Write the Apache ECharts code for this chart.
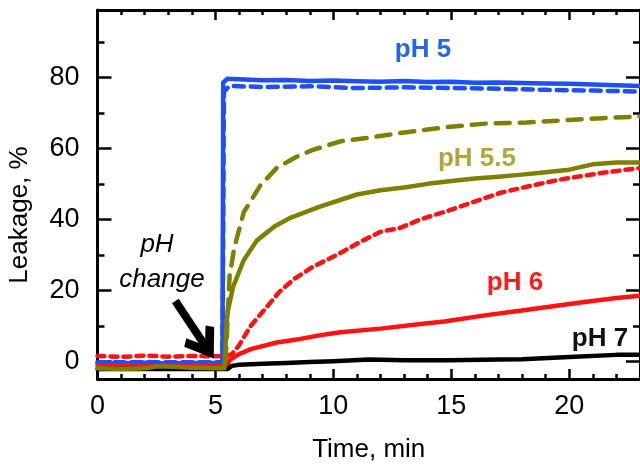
<!DOCTYPE html>
<html>
<head>
<meta charset="utf-8">
<script src="https://cdn.jsdelivr.net/npm/echarts@6/dist/echarts.min.js"></script>
<style>html,body{margin:0;padding:0;background:#fff;}#c{width:640px;height:468px;}</style>
</head>
<body>
<div id="c"></div>
<script>
const xMajor = [0, 5, 10, 15, 20];
const xMinor = [1, 2, 3, 4, 6, 7, 8, 9, 11, 12, 13, 14, 16, 17, 18, 19, 21, 22];
const yMajor = [0, 20, 40, 60, 80];
const yMinor = [10, 30, 50, 70, 90];

const ph5Solid = [[0,-0.5],[1,-0.6],[2,-0.4],[3,-0.6],[4,-0.5],[5,-0.5],[5.3,-0.5],[5.33,78.5],[5.5,79.6],[6,79.5],[7,79.2],[8,79.3],[9,79],[10,79.1],[11,78.9],[12,78.8],[13,79],[14,78.7],[15,78.8],[16,78.5],[17,78.6],[18,78.4],[19,78.3],[20,78.2],[21,78],[22,77.8],[23,77.6]];
const ph5Dash = [[0,-0.3],[1,-0.3],[2,-0.2],[3,-0.3],[4,-0.3],[5,-0.3],[5.3,-0.3],[5.36,76],[5.6,77.6],[7,77.3],[9,77.5],[11,77],[13,77.2],[15,77],[17,76.8],[19,76.5],[21,76.3],[23,76]];
const ph55Solid = [[0,-2],[1,-2.2],[2,-2],[2.5,-1.5],[3,-1.5],[4,-1.8],[5,-2],[5.38,-2],[5.42,3],[5.46,9],[5.52,14],[5.75,21],[6.2,28.5],[6.75,34],[7.5,38],[8.2,40.5],[9.4,43.5],[11,47],[12,48.2],[13,49],[14,50],[15,50.8],[16,51.5],[17,52],[18,52.6],[19,53.3],[20,54],[21,55.5],[22,56],[23,56]];
const ph55Dash = [[5.42,0],[5.48,6],[5.52,13],[5.6,24],[5.8,32],[6.2,42],[6.9,49.5],[7.6,54.5],[8.4,57.5],[9.1,59.5],[10.3,62],[11.5,63],[12.8,64.3],[14,65.3],[14.8,66],[16.5,67],[18.2,67.3],[20,68],[21.4,68.5],[23,69]];
const ph6Solid = [[0,-1.2],[2,-1.2],[4,-1.2],[5.5,-1.2],[5.6,0.3],[6,2],[6.5,3.4],[7.6,5.3],[8.6,6.3],[9.4,7.3],[10.3,8.2],[12,9.2],[13.7,10.5],[14.7,11.2],[16.5,13],[18,14.3],[19,15.2],[20.4,16.5],[22,17.8],[23,18.5]];
const ph6Dash = [[0,1.5],[1,1.2],[2,1.6],[3,1.3],[4,1.5],[5,1.4],[5.5,1.5],[5.7,2],[6,4.5],[6.5,10],[7.2,15.5],[7.7,19.5],[8.3,23],[9.1,26.5],[10.3,30.5],[11.1,33.5],[12,36.5],[12.8,37.5],[13.7,40],[14.9,42.5],[16.2,45.5],[17.1,47.5],[18.2,49.2],[19.6,51.2],[21.3,53],[23,54.5]];
const ph7Solid = [[0,-2.2],[2,-2.2],[4,-2.2],[5.5,-2.2],[5.7,-1.3],[6,-1],[7,-0.7],[8,-0.5],[9,-0.2],[10,0],[11.5,0.5],[13,0.3],[15,0.3],[17,0.5],[18,0.6],[20,1.2],[22,1.8],[23,1.8]];

const FONT = 'Liberation Sans';
const BLUE = '#1e50f5', OLIVE = '#808000', RED = '#ff1212', BLACK = '#000';

function line(name, data, color, dash, z) {
  return {
    name, type: 'line', data, xAxisIndex: 0, yAxisIndex: 0,
    showSymbol: false, symbol: 'none', z,
    lineStyle: { color, width: 4.5, type: dash || 'solid', cap: 'round', join: 'round' }
  };
}

const common = { type: 'value', min: 0, max: 23, splitLine: { show: false } };
const ycommon = { type: 'value', min: -5, max: 99, splitLine: { show: false } };
const axLine = { show: true, onZero: false, lineStyle: { color: '#000', width: 3 } };
const noLine = { show: false, onZero: false };

const chart = echarts.init(document.getElementById('c'), null, { renderer: 'canvas' });
const blackSeries = line('pH 7', ph7Solid, BLACK, null, 5);
blackSeries.markLine = {
  silent: true, animation: false,
  symbol: ['none', 'path://M50,0 L100,80 L82,98 L50,48 L18,98 L0,80 Z'],
  symbolSize: [36, 32],
  lineStyle: { color: '#000', width: 8, type: 'solid' },
  label: { show: false },
  data: [[{ coord: [3.3, 17] }, { coord: [4.55, 4.5] }]]
};

chart.setOption({
  animation: false,
  grid: { left: 97.5, right: 0, top: 10, bottom: 88, containLabel: false },
  xAxis: [
    Object.assign({}, common, { position: 'bottom', axisLine: axLine,
      axisTick: { inside: true, length: 10, customValues: xMajor, lineStyle: { color: '#000', width: 2.5 } },
      axisLabel: { customValues: xMajor, fontSize: 27, fontFamily: FONT, color: '#000', margin: 14 },
      name: 'Time, min', nameLocation: 'middle', nameGap: 58,
      nameTextStyle: { fontSize: 26, fontFamily: FONT, color: '#000' } }),
    Object.assign({}, common, { position: 'bottom', axisLine: noLine,
      axisTick: { inside: true, length: 5, customValues: xMinor, lineStyle: { color: '#000', width: 2.5 } },
      axisLabel: { show: false } }),
    Object.assign({}, common, { position: 'top', axisLine: axLine,
      axisTick: { inside: true, length: 10, customValues: xMajor, lineStyle: { color: '#000', width: 2.5 } },
      axisLabel: { show: false } }),
    Object.assign({}, common, { position: 'top', axisLine: noLine,
      axisTick: { inside: true, length: 5, customValues: xMinor, lineStyle: { color: '#000', width: 2.5 } },
      axisLabel: { show: false } })
  ],
  yAxis: [
    Object.assign({}, ycommon, { position: 'left', axisLine: axLine,
      axisTick: { inside: true, length: 14, customValues: yMajor, lineStyle: { color: '#000', width: 2.5 } },
      axisLabel: { customValues: yMajor, fontSize: 27, fontFamily: FONT, color: '#000', margin: 18 } }),
    Object.assign({}, ycommon, { position: 'left', axisLine: noLine,
      axisTick: { inside: true, length: 7, customValues: yMinor, lineStyle: { color: '#000', width: 2.5 } },
      axisLabel: { show: false } }),
    Object.assign({}, ycommon, { position: 'right', axisLine: axLine,
      axisTick: { inside: true, length: 14, customValues: yMajor, lineStyle: { color: '#000', width: 2.5 } },
      axisLabel: { show: false } }),
    Object.assign({}, ycommon, { position: 'right', axisLine: noLine,
      axisTick: { inside: true, length: 7, customValues: yMinor, lineStyle: { color: '#000', width: 2.5 } },
      axisLabel: { show: false } })
  ],
  series: [
    line('pH 5 dashed', ph5Dash, BLUE, [10, 7], 2),
    line('pH 5', ph5Solid, BLUE, null, 3),
    line('pH 6 dashed', ph6Dash, RED, [7, 6], 1),
    line('pH 6', ph6Solid, RED, null, 4),
    blackSeries,
    line('pH 5.5 dashed', ph55Dash, OLIVE, [14, 10], 6),
    line('pH 5.5', ph55Solid, OLIVE, null, 7)
  ],
  graphic: [
    { type: 'text', x: 20, y: 215, rotation: Math.PI / 2, z: 100,
      style: { text: 'Leakage, %', font: '26px "Liberation Sans"', fill: '#000', textAlign: 'center', textVerticalAlign: 'middle' } },
    { type: 'text', x: 423, y: 50, z: 100, style: { text: 'pH 5', font: 'bold 26px "Liberation Sans"', fill: '#2266ee', textAlign: 'center', textVerticalAlign: 'middle' } },
    { type: 'text', x: 477, y: 159, z: 100, style: { text: 'pH 5.5', font: 'bold 26px "Liberation Sans"', fill: '#b4a43c', textAlign: 'center', textVerticalAlign: 'middle' } },
    { type: 'text', x: 515, y: 283, z: 100, style: { text: 'pH 6', font: 'bold 26px "Liberation Sans"', fill: '#ff1a1a', textAlign: 'center', textVerticalAlign: 'middle' } },
    { type: 'text', x: 600, y: 339, z: 100, style: { text: 'pH 7', font: 'bold 26px "Liberation Sans"', fill: '#111', textAlign: 'center', textVerticalAlign: 'middle' } },
    { type: 'text', x: 157, y: 245, z: 100, style: { text: 'pH', font: 'italic 26px "Liberation Sans"', fill: '#000', textAlign: 'center', textVerticalAlign: 'middle' } },
    { type: 'text', x: 162, y: 280, z: 100, style: { text: 'change', font: 'italic 26px "Liberation Sans"', fill: '#000', textAlign: 'center', textVerticalAlign: 'middle' } }
  ]
});
</script>
</body>
</html>
